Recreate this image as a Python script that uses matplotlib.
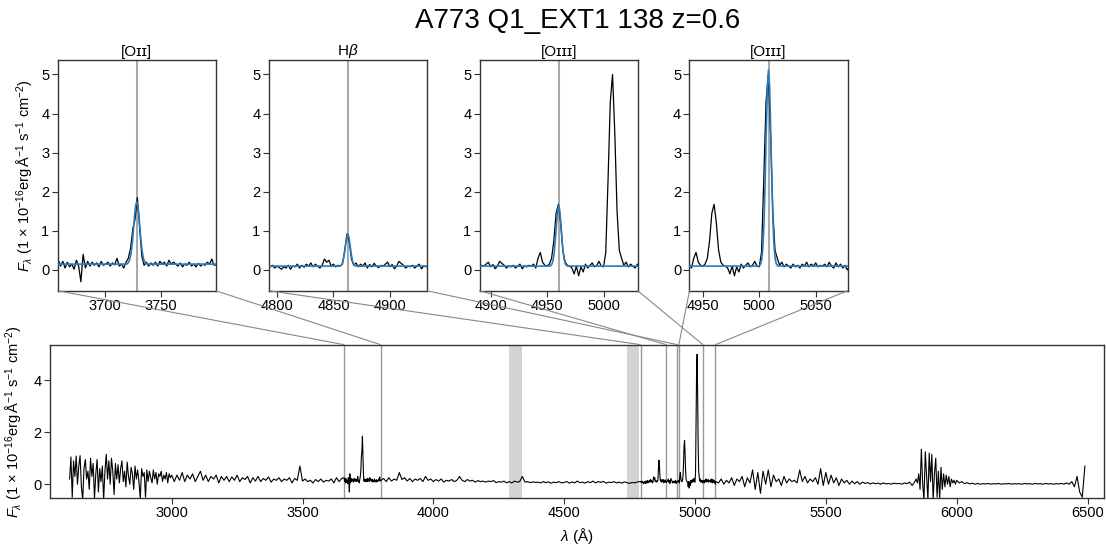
import numpy as np
import matplotlib
matplotlib.use("Agg")
import matplotlib.pyplot as plt
from matplotlib.patches import ConnectionPatch
from matplotlib.ticker import MultipleLocator

plt.rcParams['font.family'] = ['Liberation Sans', 'DejaVu Sans']
plt.rcParams['mathtext.fontset'] = 'custom'
plt.rcParams['mathtext.rm'] = 'Liberation Sans'
plt.rcParams['mathtext.it'] = 'Liberation Sans:italic'
plt.rcParams['mathtext.bf'] = 'Liberation Sans:bold'

# --- spectrum (rest frame, 1e-16 erg/A/s/cm2) ---
# noisy blue end, 5 A steps from 2610
flux_uv = [0.2, 1.05, -0.5, 0.9, 0.3, 1.08, 0.0, 0.7, 1.1, -0.1,
           -0.6, 0.6, 0.95, 0.2, 0.5, -0.2, 1.0, 0.3, 0.8, -0.55,
           0.4, 0.95, -0.3, 0.6, 0.1, 0.7, -0.6, 0.5, 1.15, 0.2,
           0.9, 0.0, 1.0, 0.5, -0.4, 0.8, 0.2, 0.75, 0.05, 0.6,
           0.9, 0.1, 0.5, -0.1, 0.85, 0.3, 0.0, 0.65, 0.4, -0.2,
           0.7, 0.2, 0.55, 0.1, -0.55, 0.6, 0.3, 0.45, -0.5, 0.55,
           0.1, 0.5, 0.25, 0.05, 0.55, 0.2, 0.45, 0.0, 0.4, 0.3,
           0.5, 0.1, 0.35, 0.2, 0.45, 0.05, 0.4, 0.25]
# blue part, 10 A steps from 3000
flux_blue = [0.35,
             0.1, 0.35, 0.15, 0.45, 0.1, 0.35, 0.2, 0.4, 0.1, 0.3,
             0.5, 0.15, 0.35, 0.1, 0.3, 0.2, 0.35, 0.05, 0.3, 0.15,
             0.3, 0.1, 0.28, 0.15, 0.35, 0.1, 0.25, 0.18, 0.3, 0.05,
             0.25, 0.12, 0.3, 0.1, 0.22, 0.15, 0.28, 0.08, 0.2, 0.15,
             0.25, 0.1, 0.2, 0.15, 0.25, 0.05, 0.22, 0.15, 0.7, 0.12,
             0.2, 0.1, 0.15, 0.05, 0.18, 0.1, 0.2, 0.08, 0.15, 0.12,
             0.2, 0.05, 0.25, 0.1, 0.22]
# [OII] window, 2 A steps from 3659
flux_oii = [0.25, 0.1, 0.22, 0.05, 0.2, 0.08, 0.15, 0.02, 0.25, 0.1,
            -0.3, 0.4, 0.05, 0.22, 0.1, 0.2, 0.12, 0.18, 0.08, 0.22,
            0.12, 0.15, 0.2, 0.1, 0.18, 0.13, 0.3, 0.1, 0.15, 0.05,
            0.2, 0.3, 0.55, 1.05, 1.3, 1.85, 1.1, 0.35, 0.12, 0.2,
            0.1, 0.18, 0.12, 0.2, 0.1, 0.22, 0.15, 0.2, 0.1, 0.25,
            0.15, 0.2, 0.15, 0.1, 0.18, 0.08, 0.15, 0.12, 0.2, 0.1,
            0.15, 0.08, 0.17, 0.1, 0.15, 0.12, 0.2, 0.15, 0.28, 0.12]
# middle part, 10 A steps from 3800
flux_mid = [0.15, 0.22, 0.1, 0.25, 0.12, 0.2, 0.15, 0.45, 0.18, 0.25,
            0.12, 0.22, 0.1, 0.2, 0.15, 0.22, 0.1, 0.3, 0.15, 0.2,
            0.1, 0.18, 0.12, 0.2, 0.08, 0.15, 0.12, 0.18, 0.1, 0.15,
            0.3, 0.15, 0.1, 0.18, 0.12, 0.15, 0.08, 0.14, 0.1, 0.12,
            0.08, 0.12, 0.1, 0.14, 0.06, 0.1, 0.08, 0.12, 0.05, 0.1,
            0.05, 0.12, 0.08, 0.1, 0.3, 0.08, 0.1, 0.06, 0.09, 0.07,
            0.08, 0.05, 0.1, 0.06, 0.09, 0.04, 0.08, 0.06, 0.1, 0.05,
            0.07, 0.1, 0.04, 0.09, 0.05, 0.12, 0.06, 0.08, 0.04, 0.1,
            0.06, 0.12, 0.05, 0.1, 0.07, 0.11, 0.04, 0.08, 0.06, 0.1,
            0.05, 0.08, 0.04, 0.09, 0.06, 0.03, 0.07, 0.05, 0.09]
# Hbeta + [OIII] window, 2 A steps from 4792
flux_oiii = [0.1, 0.08, 0.12, 0.05, 0.1, 0.06, 0.02, 0.08, 0.05, 0.12,
             0.02, 0.1, 0.08, 0.15, 0.05, 0.12, 0.07, 0.15, 0.1, 0.18,
             0.08, 0.15, 0.1, 0.05, 0.12, 0.28, 0.2, 0.25, 0.1, 0.15,
             0.08, 0.12, 0.1, 0.15, 0.5, 0.92, 0.72, 0.28, 0.12, 0.18,
             0.08, 0.15, 0.1, 0.18, 0.05, 0.14, 0.08, 0.17, 0.1, 0.06,
             0.12, 0.1, 0.15, 0.2, 0.08, 0.14, 0.03, 0.1, 0.22, 0.17,
             0.12, 0.05, 0.1, 0.08, 0.12, 0.05, 0.1, 0.15, 0.03, 0.1,
             0.08, 0.12, 0.1, 0.15, 0.05, 0.3, 0.45, 0.2, 0.12, 0.1,
             0.15, 0.3, 0.75, 1.45, 1.68, 1.2, 0.5, 0.2, 0.12, 0.1,
             0.05, -0.1, 0.1, -0.15, 0.08, -0.05, 0.15, 0.05, 0.12, 0.18,
             0.08, 0.12, 0.22, 0.1, 0.08, 0.45, 2.3, 4.3, 5.0, 3.5,
             1.5, 0.5, 0.3, 0.12, 0.2, 0.08, 0.15, 0.1, 0.05, 0.15,
             0.08, 0.12, 0.05, 0.15, 0.1, 0.2, 0.08, 0.15, 0.1, 0.18,
             0.08, 0.12, 0.1, 0.15, 0.08, 0.2, 0.1, 0.05, 0.18, 0.08,
             0.15, 0.05, 0.12, 0.0]
# red part, 10 A steps from 5080
flux_red = [0.1, 0.05, 0.2, 0.0, 0.15, 0.05, 0.25, -0.05, 0.2, 0.1,
            0.3, -0.1, 0.25, 0.05, 0.55, -0.2, 0.45, -0.35, 0.5, 0.0,
            0.55, -0.1, 0.35, 0.1, 0.2, -0.05, 0.3, 0.05, 0.2, 0.1,
            0.15, 0.05, 0.55, 0.1, 0.3, 0.05, 0.2, 0.1, 0.25, 0.0,
            0.6, -0.05, 0.45, 0.0, 0.35, 0.05, 0.25, -0.05, 0.2, 0.05,
            0.15, 0.0, 0.12, 0.02, 0.1, 0.0, 0.08, 0.03, 0.06, 0.01,
            0.05, 0.02, 0.04, 0.0, 0.05, 0.01, 0.03, 0.0, 0.04, 0.02,
            0.03, 0.0, 0.05, 0.02, 0.08, -0.05]
# sky-line residuals, 5 A steps from 5840
flux_sky = [0.1, 0.2, 0.05, 0.4, -0.2, 1.35, 0.0, -0.6, 1.25, 0.3,
            -0.6, 1.2, 0.1, 1.15, -0.6, 0.4, 1.0, -0.5, 0.5, -0.55,
            0.65, -0.2, 0.4, -0.1, 0.35, 0.0, 0.3, -0.1, 0.2, 0.05,
            0.15, 0.0]
# red end, 10 A steps from 6000
flux_far = [0.15, 0.05, 0.1, 0.02, 0.06, 0.01, 0.04, 0.0,
            0.03, 0.0, 0.02, 0.01, 0.03, 0.0, 0.02, 0.01, 0.03, 0.0,
            0.02, 0.01, 0.03, 0.0, 0.02, 0.01, 0.02, 0.0, 0.03, 0.01,
            0.02, 0.0, 0.03, 0.01, 0.02, 0.0, 0.03, 0.01, 0.02, 0.0,
            0.02, 0.01, 0.03, 0.0, 0.05, 0.0, 0.1, -0.1, 0.3, -0.3,
            -0.5, 0.7]

# gaussian line fits (wavelength, flux)
fit_oii_w = [3658.5, 3719.5, 3720.5, 3721.5, 3722.5, 3723.5, 3724.5, 3725.5, 3726.5, 3727.5,
             3728.5, 3729.5, 3730.5, 3731.5, 3732.5, 3733.5, 3734.5, 3735.5, 3736.5, 3737.5, 3798.5]
fit_oii_f = [0.15, 0.15, 0.17, 0.21, 0.29, 0.44, 0.68, 1.01, 1.37, 1.64,
             1.75, 1.64, 1.37, 1.01, 0.68, 0.44, 0.29, 0.21, 0.17, 0.15, 0.15]
fit_hb_w = [4792.7, 4855.7, 4856.7, 4857.7, 4858.7, 4859.7, 4860.7, 4861.7, 4862.7,
            4863.7, 4864.7, 4865.7, 4866.7, 4867.7, 4868.7, 4869.7, 4932.7]
fit_hb_f = [0.1, 0.1, 0.12, 0.16, 0.26, 0.42, 0.64, 0.84, 0.92,
            0.84, 0.64, 0.42, 0.26, 0.16, 0.12, 0.1, 0.1]
fit_o3a_w = [4890.3, 4952.3, 4953.3, 4954.3, 4955.3, 4956.3, 4957.3, 4958.3, 4959.3, 4960.3,
             4961.3, 4962.3, 4963.3, 4964.3, 4965.3, 4966.3, 4967.3, 4968.3, 5030.3]
fit_o3a_f = [0.1, 0.1, 0.115, 0.15, 0.25, 0.44, 0.76, 1.16, 1.51, 1.65,
             1.51, 1.16, 0.76, 0.44, 0.25, 0.15, 0.115, 0.1, 0.1]
fit_o3b_w = [4938.2, 4999.2, 5000.2, 5001.2, 5002.2, 5003.2, 5004.2, 5005.2, 5006.2, 5007.2,
             5008.2, 5009.2, 5010.2, 5011.2, 5012.2, 5013.2, 5014.2, 5015.2, 5016.2, 5017.2, 5078.2]
fit_o3b_f = [0.1, 0.1, 0.11, 0.15, 0.27, 0.57, 1.2, 2.24, 3.54, 4.67,
             5.12, 4.67, 3.54, 2.24, 1.2, 0.57, 0.27, 0.15, 0.11, 0.1, 0.1]

line_names = ['[O\u026a\u026a]', r'H$\beta$', '[O\u026a\u026a\u026a]', '[O\u026a\u026a\u026a]']
line_centres = [3728.5, 4862.7, 4960.3, 5008.2]
fits = [(fit_oii_w, fit_oii_f), (fit_hb_w, fit_hb_f),
        (fit_o3a_w, fit_o3a_f), (fit_o3b_w, fit_o3b_f)]
half_width = 70
sky_bands = [(4290, 4340), (4741, 4786)]

wave = np.concatenate([2610 + 5 * np.arange(len(flux_uv)),
                       3000 + 10 * np.arange(len(flux_blue)),
                       3659 + 2 * np.arange(len(flux_oii)),
                       3800 + 10 * np.arange(len(flux_mid)),
                       4792 + 2 * np.arange(len(flux_oiii)),
                       5080 + 10 * np.arange(len(flux_red)),
                       5840 + 5 * np.arange(len(flux_sky)),
                       6000 + 10 * np.arange(len(flux_far))])
flux = np.concatenate([flux_uv, flux_blue, flux_oii, flux_mid, flux_oiii,
                       flux_red, flux_sky, flux_far])

ylim = (-0.53, 5.37)
ylab = r'$F_\lambda$ (1 $\times$ 10$^{-16}$erg$\,$Å$^{-1}$ s$^{-1}$ cm$^{-2}$)'
spine_col = '#333333'

fig = plt.figure(figsize=(11.06, 5.44), dpi=100)
fig.suptitle('A773 Q1_EXT1 138 z=0.6', fontsize=20, x=0.522, y=0.985)


def style(ax):
    for s in ax.spines.values():
        s.set_color(spine_col)
        s.set_linewidth(1.0)
    ax.tick_params(direction='out', length=4, width=0.8, color=spine_col,
                   labelsize=10.5, pad=2)


# main spectrum
ax = fig.add_axes([0.0452, 0.0846, 0.953, 0.2818])
style(ax)
ax.plot(wave, flux, color='black', lw=0.8, zorder=3)
for b0, b1 in sky_bands:
    ax.axvspan(b0, b1, color='#d3d3d3', lw=0, zorder=1)
for c in line_centres:
    ax.axvline(c - half_width, color='#999999', lw=1, zorder=2)
    ax.axvline(c + half_width, color='#999999', lw=1, zorder=2)
ax.set_xlim(2535, 6563)
ax.set_ylim(*ylim)
ax.set_yticks([0, 2, 4])
ax.set_xticks(np.arange(3000, 6501, 500))
ax.set_xlabel(r'$\lambda$ (Å)', fontsize=11, labelpad=4)
ax.set_ylabel(ylab, fontsize=10.5, labelpad=6)

# zoom panels around each line
lefts = [0.0522, 0.2430, 0.4337, 0.6234]
for i, (name, c, (fw, ff)) in enumerate(zip(line_names, line_centres, fits)):
    ins = fig.add_axes([lefts[i], 0.4656, 0.1429, 0.4241])
    style(ins)
    ins.axvline(c, color='#aaaaaa', lw=1.5, zorder=1)
    ins.plot(wave, flux, color='black', lw=0.9, zorder=2)
    ins.plot(fw, ff, color='#2b7bba', lw=1.2, zorder=3)
    ins.set_xlim(c - half_width, c + half_width)
    ins.set_ylim(*ylim)
    ins.xaxis.set_major_locator(MultipleLocator(50))
    ins.set_yticks(range(6))
    ins.set_title(name, fontsize=11, pad=3)
    if i == 0:
        ins.set_ylabel(ylab, fontsize=10.5, labelpad=4)
    for xe in (c - half_width, c + half_width):
        con = ConnectionPatch(xyA=(xe, ylim[0]), coordsA=ins.transData,
                              xyB=(xe, ylim[1]), coordsB=ax.transData,
                              color='#888888', lw=0.8)
        fig.add_artist(con)

fig.savefig('out.png', dpi=100)
